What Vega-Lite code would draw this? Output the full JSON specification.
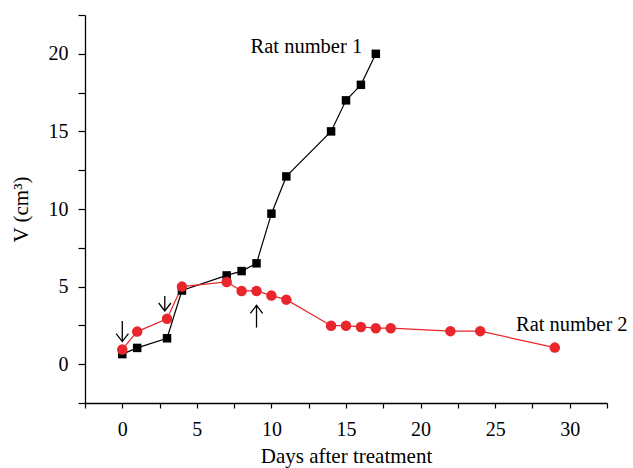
{
  "$schema": "https://vega.github.io/schema/vega-lite/v6.json",
  "width": 522,
  "height": 388,
  "autosize": {"type": "none"},
  "padding": {"left": 85, "top": 15, "right": 26, "bottom": 65},
  "background": "white",
  "config": {
    "view": {"stroke": null},
    "font": "Liberation Serif",
    "axis": {
      "domainColor": "black",
      "domainWidth": 1.3,
      "tickColor": "black",
      "tickWidth": 1.2,
      "labelFont": "Liberation Serif",
      "labelFontSize": 20,
      "labelColor": "black",
      "titleFont": "Liberation Serif",
      "titleFontSize": 21,
      "titleFontWeight": "normal",
      "titleColor": "black",
      "grid": false,
      "labelOverlap": false,
      "labelFlush": false
    }
  },
  "datasets": {
    "series": [
      {"rat": "Rat 1", "day": 0, "v": 0.65},
      {"rat": "Rat 1", "day": 1, "v": 1.05},
      {"rat": "Rat 1", "day": 3, "v": 1.67},
      {"rat": "Rat 1", "day": 4, "v": 4.75},
      {"rat": "Rat 1", "day": 7, "v": 5.72},
      {"rat": "Rat 1", "day": 8, "v": 6.0},
      {"rat": "Rat 1", "day": 9, "v": 6.5},
      {"rat": "Rat 1", "day": 10, "v": 9.7},
      {"rat": "Rat 1", "day": 11, "v": 12.1},
      {"rat": "Rat 1", "day": 14, "v": 15.0},
      {"rat": "Rat 1", "day": 15, "v": 17.0},
      {"rat": "Rat 1", "day": 16, "v": 18.0},
      {"rat": "Rat 1", "day": 17, "v": 20.0},
      {"rat": "Rat 2", "day": 0, "v": 0.95},
      {"rat": "Rat 2", "day": 1, "v": 2.1},
      {"rat": "Rat 2", "day": 3, "v": 2.93},
      {"rat": "Rat 2", "day": 4, "v": 5.0},
      {"rat": "Rat 2", "day": 7, "v": 5.3},
      {"rat": "Rat 2", "day": 8, "v": 4.72},
      {"rat": "Rat 2", "day": 9, "v": 4.72},
      {"rat": "Rat 2", "day": 10, "v": 4.42},
      {"rat": "Rat 2", "day": 11, "v": 4.16},
      {"rat": "Rat 2", "day": 14, "v": 2.48},
      {"rat": "Rat 2", "day": 15, "v": 2.48},
      {"rat": "Rat 2", "day": 16, "v": 2.4},
      {"rat": "Rat 2", "day": 17, "v": 2.32},
      {"rat": "Rat 2", "day": 18, "v": 2.32},
      {"rat": "Rat 2", "day": 22, "v": 2.13},
      {"rat": "Rat 2", "day": 24, "v": 2.13},
      {"rat": "Rat 2", "day": 29, "v": 1.07}
    ],
    "notes": [
      {"label": "Rat number 1", "day": 8.6, "v": 20.06},
      {"label": "Rat number 2", "day": 26.4, "v": 2.14}
    ],
    "arrows": [
      {"dir": "down", "day": 0, "top": 2.78, "bottom": 1.46},
      {"dir": "down", "day": 2.85, "top": 4.39, "bottom": 3.43},
      {"dir": "up", "day": 9, "top": 3.79, "bottom": 2.36}
    ]
  },
  "layer": [
    {
      "data": {"name": "series"},
      "mark": {"type": "line", "strokeWidth": 1.2},
      "encoding": {
        "x": {
          "field": "day", "type": "quantitative",
          "scale": {"domain": [-2.5, 32.5], "nice": false, "zero": false},
          "axis": {
            "title": "Days after treatment",
            "values": [-2.5, 0, 2.5, 5, 7.5, 10, 12.5, 15, 17.5, 20, 22.5, 25, 27.5, 30, 32.5],
            "tickCount": 100,
            "format": "d",
            "labelExpr": "datum.value % 5 === 0 ? datum.label : ''",
            "tickSize": 5,
            "labelPadding": 11,
            "titleX": 261,
            "titleY": 59,
            "titleBaseline": "alphabetic"
          }
        },
        "y": {
          "field": "v", "type": "quantitative",
          "scale": {"domain": [-2.5, 22.5], "nice": false, "zero": false},
          "axis": {
            "title": "V (cm³)",
            "values": [-2.5, 0, 2.5, 5, 7.5, 10, 12.5, 15, 17.5, 20, 22.5],
            "tickCount": 100,
            "format": "d",
            "labelExpr": "datum.value % 5 === 0 ? datum.label : ''",
            "tickSize": 7,
            "labelPadding": 10,
            "titleAngle": 270,
            "titleX": -58,
            "titleY": 194,
            "titleAlign": "center",
            "titleBaseline": "alphabetic"
          }
        },
        "color": {
          "field": "rat", "type": "nominal",
          "scale": {"domain": ["Rat 1", "Rat 2"], "range": ["#000000", "#e8262b"]},
          "legend": null
        }
      }
    },
    {
      "data": {"name": "series"},
      "mark": {"type": "point", "filled": true, "opacity": 1},
      "encoding": {
        "x": {"field": "day", "type": "quantitative"},
        "y": {"field": "v", "type": "quantitative"},
        "color": {"field": "rat", "type": "nominal", "legend": null},
        "shape": {
          "field": "rat", "type": "nominal",
          "scale": {"domain": ["Rat 1", "Rat 2"], "range": ["square", "circle"]},
          "legend": null
        },
        "size": {
          "field": "rat", "type": "nominal",
          "scale": {"domain": ["Rat 1", "Rat 2"], "range": [72, 110]},
          "legend": null
        }
      }
    },
    {
      "data": {"name": "arrows"},
      "mark": {"type": "rule", "color": "black", "strokeWidth": 1.3},
      "encoding": {
        "x": {"field": "day", "type": "quantitative"},
        "y": {"field": "top", "type": "quantitative"},
        "y2": {"field": "bottom"}
      }
    },
    {
      "data": {"name": "arrows"},
      "transform": [{"filter": "datum.dir === 'down'"}],
      "mark": {"type": "point", "shape": "M-1,-1.3L0,0L1,-1.3", "filled": false, "stroke": "black", "strokeWidth": 1.3, "size": 150, "opacity": 1},
      "encoding": {
        "x": {"field": "day", "type": "quantitative"},
        "y": {"field": "bottom", "type": "quantitative"}
      }
    },
    {
      "data": {"name": "arrows"},
      "transform": [{"filter": "datum.dir === 'up'"}],
      "mark": {"type": "point", "shape": "M-1,1.3L0,0L1,1.3", "filled": false, "stroke": "black", "strokeWidth": 1.3, "size": 150, "opacity": 1},
      "encoding": {
        "x": {"field": "day", "type": "quantitative"},
        "y": {"field": "top", "type": "quantitative"}
      }
    },
    {
      "data": {"name": "notes"},
      "mark": {"type": "text", "align": "left", "baseline": "alphabetic", "font": "Liberation Serif", "fontSize": 20.5, "color": "black"},
      "encoding": {
        "x": {"field": "day", "type": "quantitative"},
        "y": {"field": "v", "type": "quantitative"},
        "text": {"field": "label"}
      }
    }
  ]
}
